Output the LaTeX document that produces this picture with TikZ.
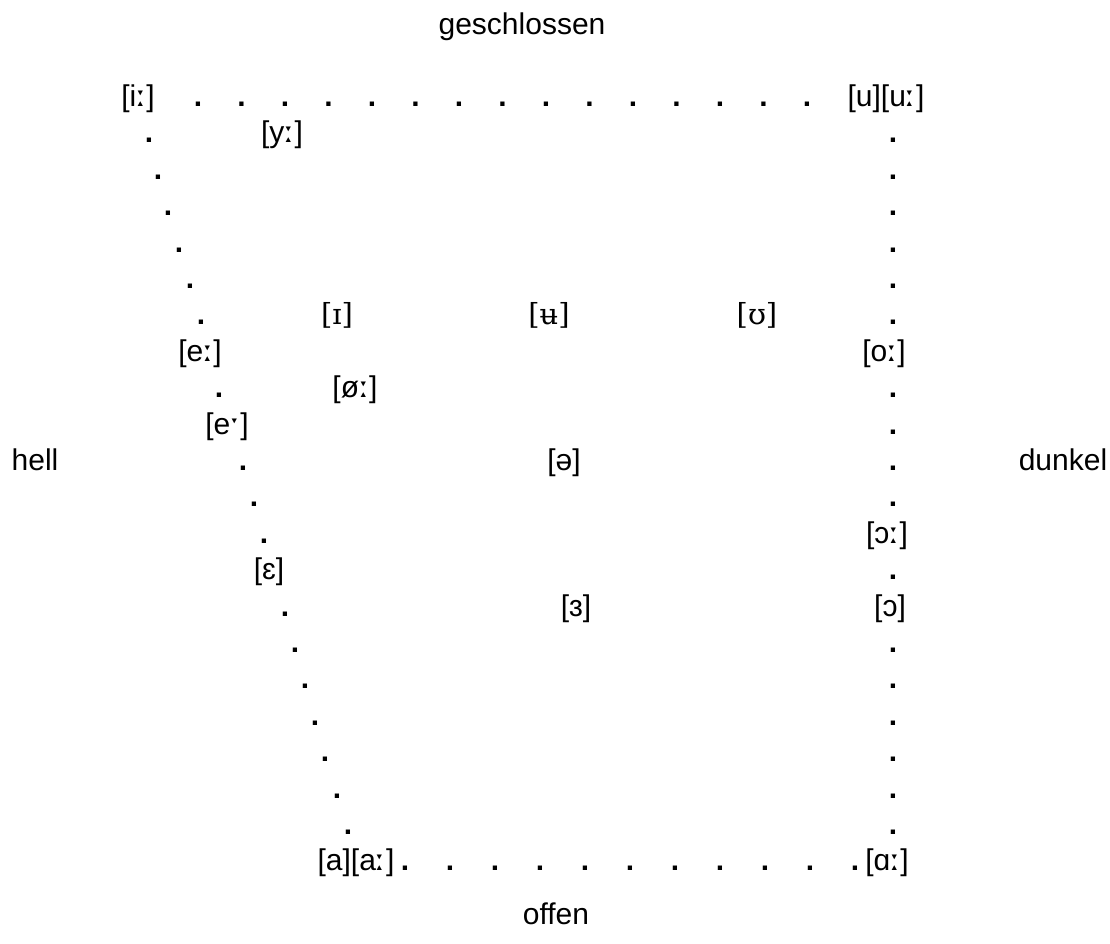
\documentclass[tikz,border=0pt]{standalone}
\usepackage{fontspec}
\setmainfont{Liberation Sans}
\newfontfamily\ipaserif{DejaVu Serif}
\newfontfamily\ipamark{DejaVu Sans}
\newcommand{\len}{{\ipamark ː}}
\newcommand{\hlen}{{\ipamark ˑ}}
\begin{document}
\begin{tikzpicture}[x=1pt,y=-1pt,
  lbl/.style={anchor=base,inner sep=0pt,font=\fontsize{30}{34}\selectfont},
  serif/.style={lbl,font=\fontsize{29}{34}\ipaserif},
  pt/.style={anchor=base,inner sep=0pt,font=\fontsize{30}{34}\selectfont\bfseries}]
\useasboundingbox (0,0) rectangle (1110,943);
\def\Ly#1{106.5+36.4*#1}
% titles
\node[lbl] (geschlossen) at (522,34) {geschlossen};
\node[lbl] (offen) at (556,924) {offen};
\node[lbl] (hell) at (35,{\Ly{10}}) {hell};
\node[lbl] (dunkel) at (1063,{\Ly{10}}) {dunkel};
% vowels
\node[lbl] (i) at (138,{\Ly{0}}) {[i\len]};
\node[lbl] (u) at (886,{\Ly{0}}) {[u][u\len]};
\node[lbl] (y) at (282,{\Ly{1}}) {[y\len]};
\node[serif] (I) at (337,{\Ly{6}}) {[ɪ]};
\node[serif] (ubar) at (549,{\Ly{6}}) {[ʉ]};
\node[serif] (U) at (757,{\Ly{6}}) {[ʊ]};
\node[lbl] (e) at (200,{\Ly{7}}) {[e\len]};
\node[lbl] (o) at (884,{\Ly{7}}) {[o\len]};
\node[lbl] (oe) at (355,{\Ly{8}}) {[ø\len]};
\node[lbl] (ehalf) at (227,{\Ly{9}}) {[e\hlen]};
\node[lbl] (schwa) at (564,{\Ly{10}}) {[ə]};
\node[lbl] (openo) at (887,{\Ly{12}}) {[ɔ\len]};
\node[lbl] (eps) at (269,{\Ly{13}}) {[ɛ]};
\node[lbl] (rev) at (576,{\Ly{14}}) {[ɜ]};
\node[lbl] (openos) at (890,{\Ly{14}}) {[ɔ]};
\node[lbl] (a) at (356,{\Ly{21}}) {[a][a\len]};
\node[lbl] (alpha) at (887,{\Ly{21}}) {[ɑ\len]};
% top row dots
\foreach \k in {0,...,14} \node[pt] (t\k) at ({198+43.5*\k},{\Ly{0}}) {.};
% bottom row dots
\foreach \k in {0,...,10} \node[pt] (b\k) at ({405+45*\k},{\Ly{21}}) {.};
% left diagonal dots
\foreach \x/\l in {149/1,158/2,168/3,179/4,190/5,201/6,219/8,243/10,254/11,264/12,285/14,295/15,305/16,315/17,325/18,337/19,348/20}
  \node[pt] (l\l) at (\x,{\Ly{\l}}) {.};
% right column dots
\foreach \l in {1,2,3,4,5,6,8,9,10,11,13,15,16,17,18,19,20}
  \node[pt] (r\l) at (893,{\Ly{\l}}) {.};
\end{tikzpicture}
\end{document}
